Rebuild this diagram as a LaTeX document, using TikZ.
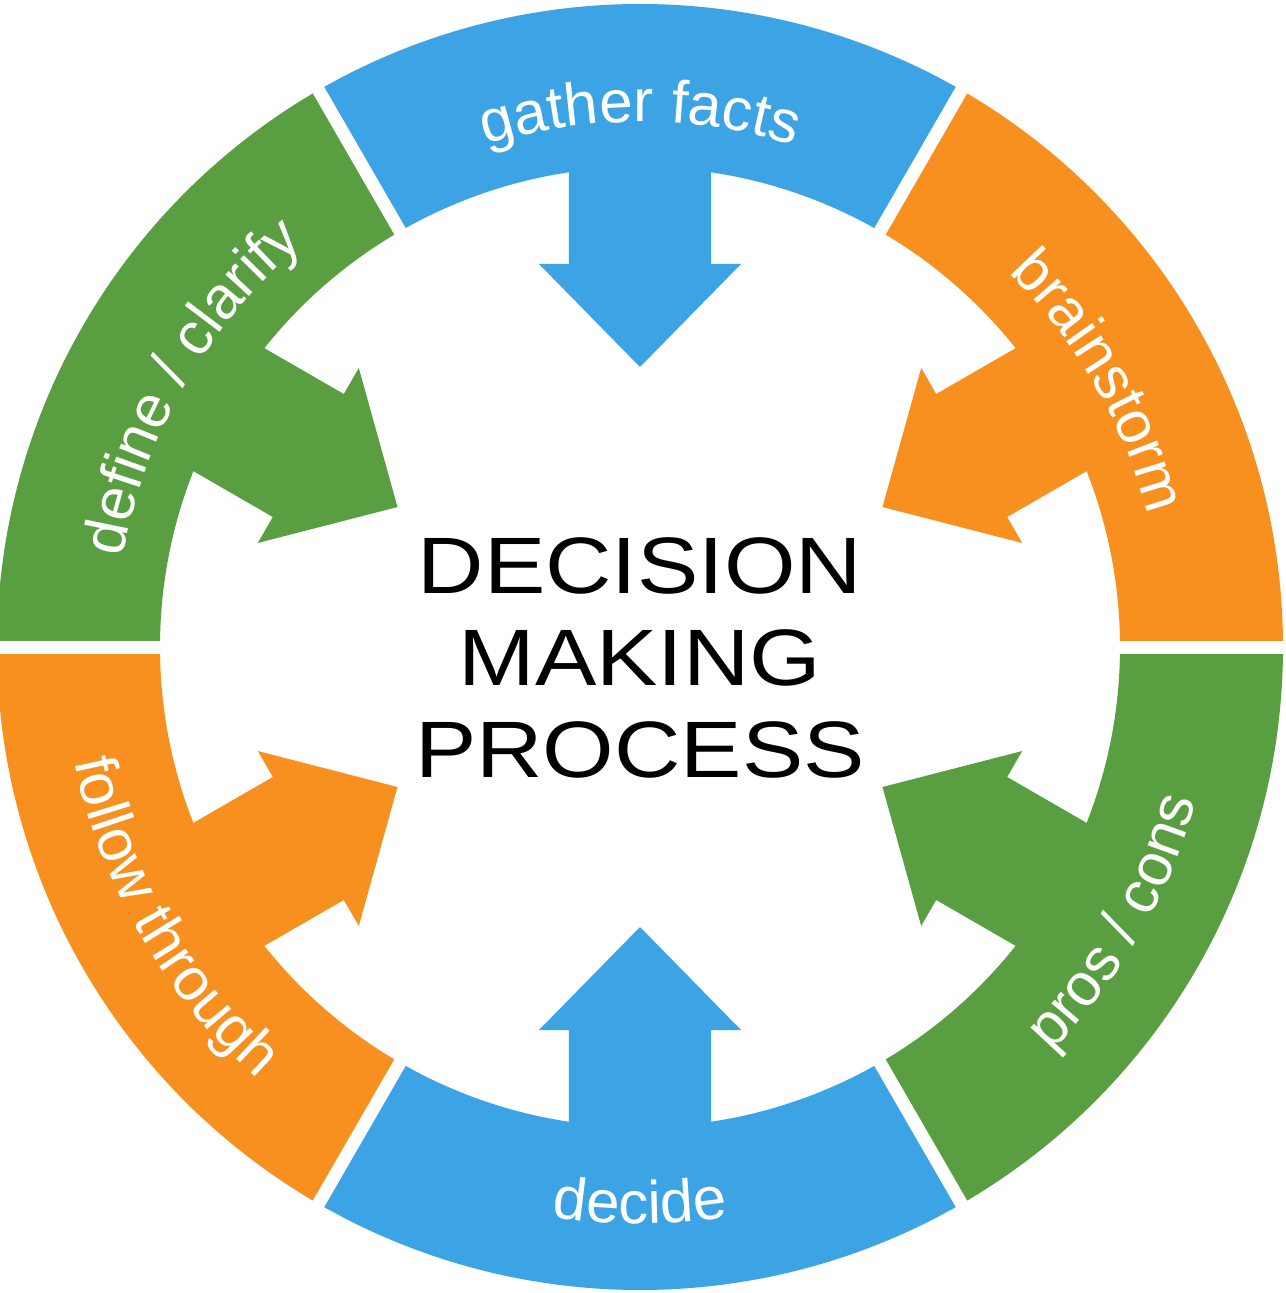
\documentclass[tikz,border=0pt]{standalone}
\usepackage{fontspec}
\setmainfont{Liberation Sans}
\newfontfamily\titlefont[FakeStretch=1.15]{Liberation Sans}
\usetikzlibrary{decorations.text}
\definecolor{cblue}{RGB}{60,164,228}
\definecolor{corange}{RGB}{247,144,30}
\definecolor{cgreen}{RGB}{89,158,64}
\newcommand\lblfont{\fontsize{60}{60}\selectfont}
\begin{document}
\begin{tikzpicture}[
  gapline/.style={draw=white, line width=13pt},
  seglabel/.style={decorate, decoration={text along path, text={|\lblfont|#1}, text align=center, text color=white}},
]
\fill[white] (-640pt,-646pt) rectangle (645pt,647pt);
\useasboundingbox (-640pt,-646pt) rectangle (645pt,647pt);
% ring segments and inward arrows
\foreach \a/\c in {60/cblue, 0/corange, -60/cgreen, -120/cblue, 180/corange, 120/cgreen}{
  \fill[\c] (\a:480pt) arc[start angle=\a, end angle=\a+60, radius=480pt]
     -- ({\a+60}:643pt) arc[start angle=\a+60, end angle=\a, radius=643pt] -- cycle;
  \begin{scope}[rotate=\a-60]
    \fill[\c] (0pt,280pt) -- (101pt,383pt) -- (71pt,383pt) -- (71pt,505pt)
       -- (-71pt,505pt) -- (-71pt,383pt) -- (-101pt,383pt) -- cycle;
  \end{scope}
}
% white gaps between segments
\foreach \b in {0,60,...,300}{
  \draw[gapline] (\b:465pt) -- (\b:660pt);
}
% labels along the ring
\path[seglabel={gather facts}] (120:525pt) arc[start angle=120, end angle=60, radius=525pt];
\path[seglabel={brainstorm}] (60:525pt) arc[start angle=60, end angle=0, radius=525pt];
\path[seglabel={define / clarify}] (180:525pt) arc[start angle=180, end angle=120, radius=525pt];
\path[seglabel={decide}] (240:577pt) arc[start angle=240, end angle=300, radius=577pt];
\path[seglabel={pros / cons}] (-60:577pt) arc[start angle=-60, end angle=0, radius=577pt];
\path[seglabel={follow through}] (180:577pt) arc[start angle=180, end angle=240, radius=577pt];
% centre title
\node[align=center, font=\titlefont\fontsize{80}{92}\selectfont] (title) at (0pt,-11pt) {DECISION\\MAKING\\PROCESS};
\end{tikzpicture}
\end{document}
